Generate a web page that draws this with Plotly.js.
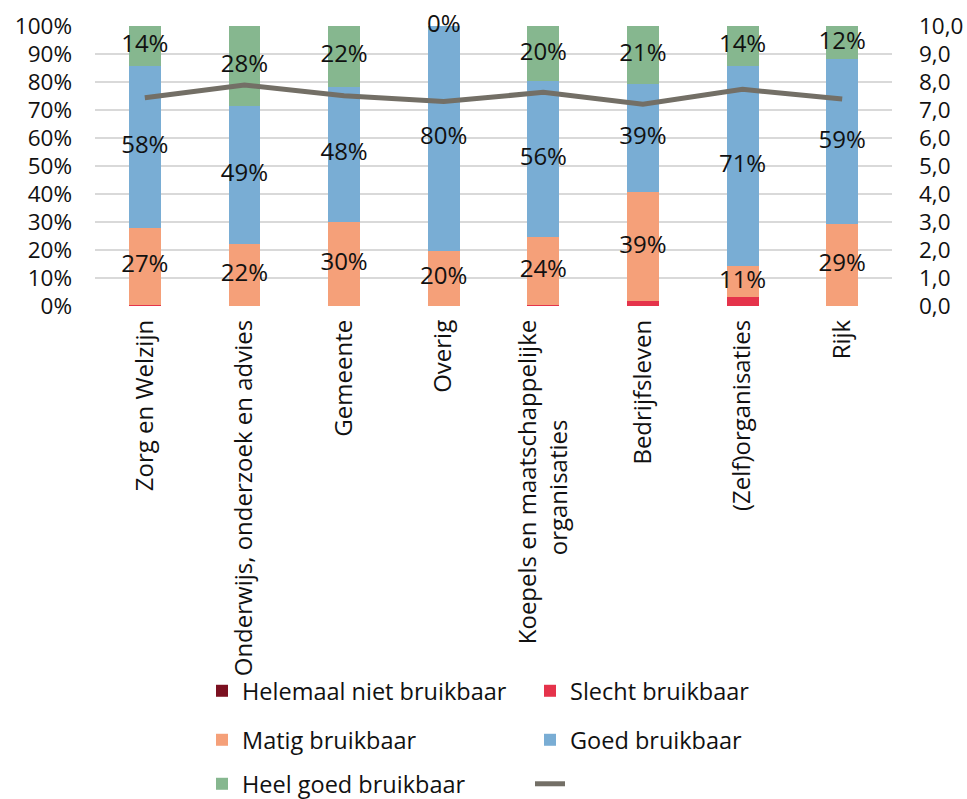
<!DOCTYPE html>
<html>
<head>
<meta charset="utf-8">
<script src="https://cdn.plot.ly/plotly-3.0.1.min.js"></script>
<style>html,body{margin:0;padding:0;background:#fff;}#chart{width:967px;height:799px;}</style>
</head>
<body>
<div id="chart"></div>
<script>
// ---- data ----
const NB = '\u00A0';
const categories = ['Zorg en Welzijn', 'Onderwijs, onderzoek en advies', 'Gemeente', 'Overig',
  'Koepels en maatschappelijke<br>organisaties' + NB.repeat(16), 'Bedrijfsleven', '(Zelf)organisaties', 'Rijk'];
const helemaalNiet = [0, 0, 0, 0, 0, 0, 0, 0];
const slecht = [0.5, 0, 0, 0, 0.5, 1.8, 3.3, 0];
const matig = [27.3, 22.2, 30.1, 19.8, 24.0, 38.8, 10.9, 29.2];
const goed = [58.0, 49.4, 48.2, 80.2, 55.8, 38.8, 71.4, 58.9];
const heelGoed = [14.2, 28.4, 21.7, 0, 19.7, 20.6, 14.4, 11.9];
const gemiddelde = [7.44, 7.89, 7.51, 7.30, 7.63, 7.21, 7.74, 7.39];
const seriesNames = ['Helemaal niet bruikbaar', 'Slecht bruikbaar', 'Matig bruikbaar', 'Goed bruikbaar', 'Heel goed bruikbaar'];
const leftTicks = [0, 10, 20, 30, 40, 50, 60, 70, 80, 90, 100];
const rightTicks = [0, 1, 2, 3, 4, 5, 6, 7, 8, 9, 10];

// ---- styles ----
const FONT = '"Open Sans", "Noto Sans", sans-serif';
const colors = ['#7B1020', '#E5334B', '#F5A079', '#79ADD4', '#86B78F'];
const lineColor = '#736F66';
const seriesData = [helemaalNiet, slecht, matig, goed, heelGoed];
const legendIds = ['legend', 'legend', 'legend2', 'legend2', 'legend3'];

const traces = [];
seriesData.forEach((vals, i) => {
  traces.push({
    type: 'bar', x: categories, y: vals, name: seriesNames[i],
    marker: {color: colors[i], line: {width: 0}},
    legend: legendIds[i], hoverinfo: 'x+y+name'
  });
});

// data labels for Matig, Goed, Heel goed at segment centres
[2, 3, 4].forEach(si => {
  const ys = categories.map((c, k) => {
    let base = 0;
    for (let j = 0; j < si; j++) base += seriesData[j][k];
    return base + seriesData[si][k] / 2;
  });
  traces.push({
    type: 'scatter', mode: 'text', x: categories, y: ys,
    text: seriesData[si].map(v => Math.round(v) + '%'),
    textposition: 'middle center',
    textfont: {family: FONT, size: 24, color: '#111111'},
    showlegend: false, hoverinfo: 'skip', cliponaxis: false
  });
});

traces.push({
  type: 'scatter', mode: 'lines', x: categories, y: gemiddelde, yaxis: 'y2',
  name: '', line: {color: lineColor, width: 5}, legend: 'legend3'
});

const legendBase = {
  orientation: 'h', xref: 'container', yref: 'container', xanchor: 'left', yanchor: 'middle',
  font: {family: FONT, size: 23.5, color: '#111111'}, bgcolor: 'rgba(0,0,0,0)',
  entrywidth: 283, entrywidthmode: 'pixels', traceorder: 'normal'
};

const layout = {
  width: 967, height: 799,
  margin: {l: 95, r: 75, t: 26, b: 493},
  paper_bgcolor: '#ffffff', plot_bgcolor: '#ffffff',
  font: {family: FONT, size: 22, color: '#111111'},
  barmode: 'stack', bargap: 0.68,
  separators: ',.',
  showlegend: true,
  xaxis: {
    type: 'category', tickangle: -90, showgrid: false, zeroline: false, showline: false,
    ticks: '', ticklabelstandoff: 8,
    tickfont: {family: FONT, size: 24, color: '#111111'}
  },
  yaxis: {
    range: [0, 100], tickvals: leftTicks, ticktext: leftTicks.map(v => v + '%'),
    showgrid: true, gridcolor: '#D9D9D9', gridwidth: 2, zeroline: false, showline: false,
    ticks: '', ticklabelstandoff: 22, fixedrange: true,
    tickfont: {family: FONT, size: 22.5, color: '#111111'}
  },
  yaxis2: {
    range: [0, 10], overlaying: 'y', side: 'right', tickvals: rightTicks, tickformat: '.1f',
    showgrid: false, zeroline: false, showline: false, ticks: '', ticklabelstandoff: 26,
    tickfont: {family: FONT, size: 22.5, color: '#111111'}
  },
  legend: Object.assign({}, legendBase, {x: 0.2089, y: 1 - 691 / 799}),
  legend2: Object.assign({}, legendBase, {x: 0.2089, y: 1 - 740 / 799}),
  legend3: Object.assign({}, legendBase, {x: 0.2089, y: 1 - 784 / 799})
};

Plotly.newPlot('chart', traces, layout, {displayModeBar: false, staticPlot: true});
</script>
</body>
</html>
